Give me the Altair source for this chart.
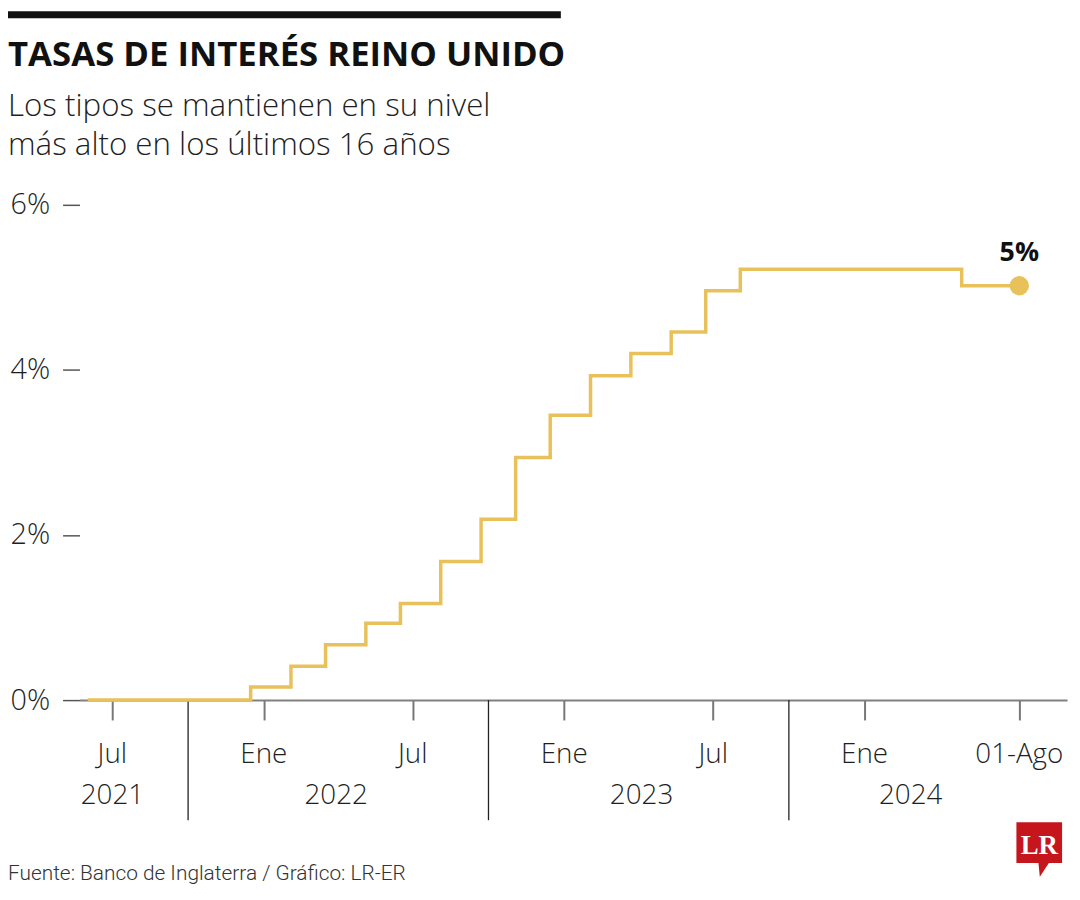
import altair as alt
import pandas as pd

# ---- data ----
dates = ["2021-06-01", "2021-12-16", "2022-02-03", "2022-03-17", "2022-05-05",
         "2022-06-16", "2022-08-04", "2022-09-22", "2022-11-03", "2022-12-15",
         "2023-02-02", "2023-03-23", "2023-05-11", "2023-06-22", "2023-08-03",
         "2024-04-28", "2024-07-07"]
rates = [0.0, 0.16, 0.41, 0.67, 0.93, 1.17, 1.68, 2.19, 2.94, 3.45,
         3.93, 4.20, 4.46, 4.96, 5.22, 5.02, 5.02]

tick_dates = ["2021-07-01", "2022-01-01", "2022-07-01", "2023-01-01",
              "2023-07-01", "2024-01-01", "2024-07-07"]
tick_labels = ["Jul", "Ene", "Jul", "Ene", "Jul", "Ene", "01-Ago"]

year_dates = ["2021-07-01", "2022-03-30", "2023-04-05", "2024-02-26"]
year_labels = ["2021", "2022", "2023", "2024"]

sep_dates = ["2021-10-01", "2022-10-01", "2023-10-01"]

y_ticks = [0, 2, 4, 6]
end_label = "5%"

title = "TASAS DE INTERÉS REINO UNIDO"
subtitle = ["Los tipos se mantienen en su nivel", "más alto en los últimos 16 años"]
source = "Fuente: Banco de Inglaterra / Gráfico: LR-ER"
logo = "LR"

x_domain = ["2021-05-22", "2024-09-03"]

# ---- styling ----
W, H = 995, 499
YELLOW = "#E8C15A"
TXT = "#1f1f1f"
FONT = "Open Sans"


def ms(d):
    return int(pd.Timestamp(d, tz="UTC").value // 10**6)


df = pd.DataFrame({"date": dates, "rate": rates})
df_end = pd.DataFrame({"date": [dates[-1]], "rate": [rates[-1]], "label": [end_label]})
df_ticks = pd.DataFrame({"date": tick_dates, "label": tick_labels})
df_years = pd.DataFrame({"date": year_dates, "label": year_labels})
df_sep = pd.DataFrame({"date": sep_dates})
one = pd.DataFrame({"k": [0]})

xscale = alt.Scale(type="utc", domain=[ms(d) for d in x_domain])
yscale = alt.Scale(domain=[0, 6], nice=False, zero=True)

x_axis = alt.Axis(
    values=[ms(d) for d in tick_dates], labels=False, title=None, grid=False,
    domainColor="#808080", domainWidth=2, tickColor="#777777", tickWidth=2,
    tickSize=20,
)
y_axis = alt.Axis(
    values=y_ticks, labelExpr="datum.value + '%'", title=None, grid=False,
    domain=False, tickColor="#555555", tickWidth=1.5, tickSize=17,
    labelPadding=13, labelFontSize=29, labelFont=FONT, labelFontWeight=300,
    labelColor=TXT,
)

line = alt.Chart(df).mark_line(
    interpolate="step-after", color=YELLOW, strokeWidth=3.5
).encode(
    x=alt.X("date:T", scale=xscale, axis=x_axis),
    y=alt.Y("rate:Q", scale=yscale, axis=y_axis),
)

dot = alt.Chart(df_end).mark_circle(color=YELLOW, size=380, opacity=1).encode(
    x=alt.X("date:T", scale=xscale), y=alt.Y("rate:Q", scale=yscale)
)

dot_label = alt.Chart(df_end).mark_text(
    font=FONT, fontWeight="bold", fontSize=27, color="#111111",
    baseline="alphabetic", dy=-24.5, align="center",
).encode(x=alt.X("date:T", scale=xscale), y=alt.Y("rate:Q", scale=yscale), text="label:N")

seps = alt.Chart(df_sep).mark_rule(color="#222222", strokeWidth=1.3).encode(
    x=alt.X("date:T", scale=xscale), y=alt.value(H), y2=alt.value(H + 121)
)

month_text = alt.Chart(df_ticks).mark_text(
    font=FONT, fontWeight=300, fontSize=28, color=TXT, baseline="alphabetic",
    align="center",
).encode(x=alt.X("date:T", scale=xscale), y=alt.value(H + 63), text="label:N")

year_text = alt.Chart(df_years).mark_text(
    font=FONT, fontWeight=300, fontSize=28, color=TXT, baseline="alphabetic",
    align="center",
).encode(x=alt.X("date:T", scale=xscale), y=alt.value(H + 105), text="label:N")

# header / footer decorations
bar = alt.Chart(one).mark_rect(color="#111111").encode(
    x=alt.value(-72), x2=alt.value(485), y=alt.value(-195), y2=alt.value(-188)
)
title_t = alt.Chart(one).mark_text(
    text=title, font=FONT, fontWeight="bold", fontSize=35, color="#111111",
    align="left", baseline="alphabetic",
).encode(x=alt.value(-72), y=alt.value(-140))
sub1 = alt.Chart(one).mark_text(
    text=subtitle[0], font=FONT, fontWeight=300, fontSize=31.5, color=TXT,
    align="left", baseline="alphabetic",
).encode(x=alt.value(-72), y=alt.value(-89))
sub2 = alt.Chart(one).mark_text(
    text=subtitle[1], font=FONT, fontWeight=300, fontSize=31.5, color=TXT,
    align="left", baseline="alphabetic",
).encode(x=alt.value(-72), y=alt.value(-50))
foot = alt.Chart(one).mark_text(
    text=source, font="Roboto", fontWeight=300, fontSize=21, color="#333333",
    align="left", baseline="alphabetic",
).encode(x=alt.value(-72), y=alt.value(680))

logo_box = alt.Chart(one).mark_rect(color="#C4161C").encode(
    x=alt.value(944), x2=alt.value(990), y=alt.value(622), y2=alt.value(663)
)
logo_tail = alt.Chart(one).mark_point(
    shape="M-0.5,-1 L1,-1 L-0.3,1 Z", filled=True, color="#C4161C", size=256, opacity=1
).encode(x=alt.value(970), y=alt.value(669))
logo_text = alt.Chart(one).mark_text(
    text=logo, font="Liberation Serif", fontWeight="bold", fontSize=27,
    color="white", align="center", baseline="alphabetic",
).encode(x=alt.value(967), y=alt.value(654))

chart = alt.layer(
    seps, line, dot, dot_label, month_text, year_text,
    bar, title_t, sub1, sub2, foot, logo_box, logo_tail, logo_text,
).properties(
    width=W, height=H,
    background="white",
    autosize=alt.AutoSizeParams(type="none"),
    padding={"left": 72, "top": 195, "right": 5, "bottom": 186},
).configure_view(stroke=None, strokeWidth=0)

chart.save("out.html", embed_options={"renderer": "svg", "actions": False})
